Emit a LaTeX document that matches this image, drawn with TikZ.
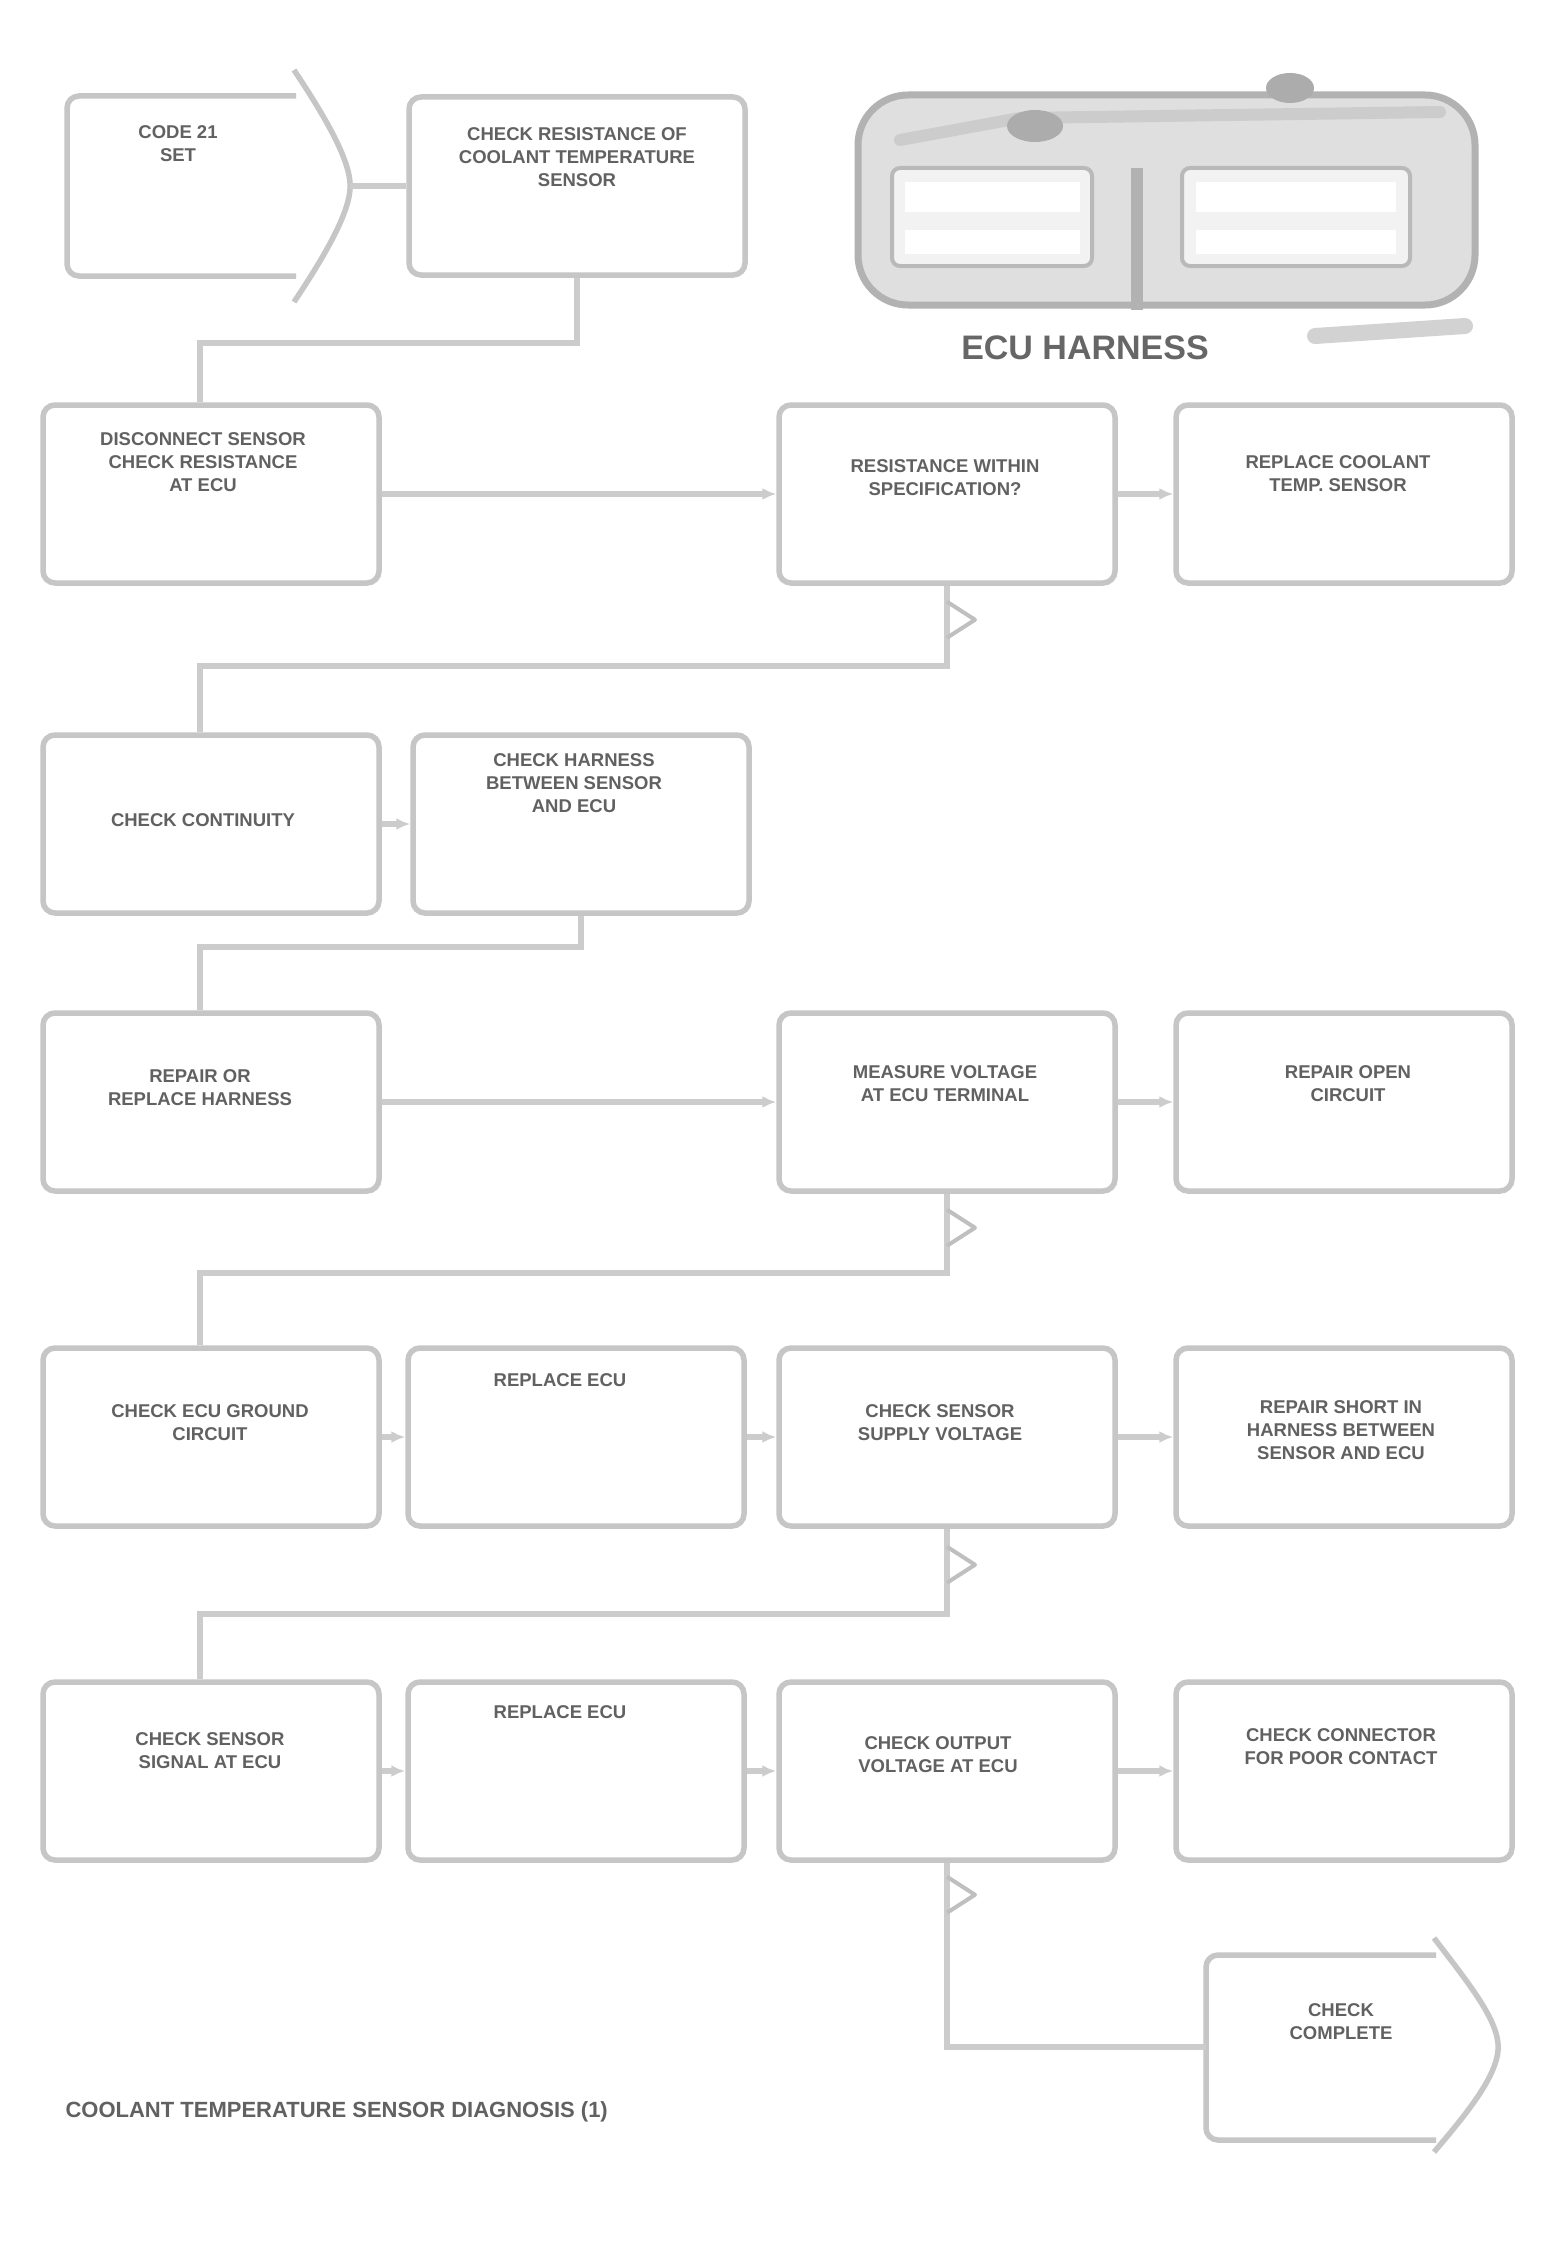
\documentclass[tikz,border=0pt]{standalone}
\usepackage{fontspec}
\setmainfont{Liberation Sans}
\usetikzlibrary{arrows.meta}
\begin{document}
\begin{tikzpicture}[x=1pt,y=-1pt,
  box/.style={draw=gray!45, line width=5.5pt, rounded corners=12pt, minimum width=336pt, minimum height=178pt, inner sep=0pt},
  ghost/.style={inner sep=0pt},
  shapeline/.style={draw=gray!45, line width=5.5pt, line join=round},
  wire/.style={draw=gray!40, line width=5.5pt},
  arr/.style={wire, -{Latex[length=14pt,width=12pt]}},
  notch/.style={draw=gray!50, line width=4pt, line join=round},
  txt/.style={font=\fontsize{18.5}{23}\selectfont\bfseries, text=black!62, align=center},
  ]
\useasboundingbox[fill=white] (0,0) rectangle (1558,2245);

% ---- start and end shapes
\node[ghost, minimum width=283pt, minimum height=184pt] (A) at (208.5,186) {};
\draw[shapeline, rounded corners=12pt] (296,96) -- (67,96) -- (67,276) -- (296,276);
\draw[shapeline] (294,70) .. controls (326,118) and (350,160) .. (A.east) .. controls (350,212) and (326,254) .. (294,302);

\node[ghost, minimum width=292pt, minimum height=186pt] (S) at (1352,2047) {};
\draw[shapeline, rounded corners=12pt] (1436,1955) -- (1206,1955) -- (1206,2140) -- (1436,2140);
\draw[shapeline] (1434,1938) .. controls (1470,1985) and (1498,2020) .. (S.east) .. controls (1498,2074) and (1470,2110) .. (1434,2152);

% ---- boxes
\node[box] (B) at (577,186) {};
\node[box] (C) at (211,494) {};
\node[box] (D) at (947,494) {};
\node[box] (E) at (1344,494) {};
\node[box] (F) at (211,824) {};
\node[box] (G) at (581,824) {};
\node[box] (H) at (211,1102) {};
\node[box] (I) at (947,1102) {};
\node[box] (J) at (1344,1102) {};
\node[box] (K) at (211,1437) {};
\node[box] (L) at (576,1437) {};
\node[box] (M) at (947,1437) {};
\node[box] (N) at (1344,1437) {};
\node[box] (O) at (211,1771) {};
\node[box] (P) at (576,1771) {};
\node[box] (Q) at (947,1771) {};
\node[box] (R) at (1344,1771) {};

% ---- texts
\node[txt] (tA) at (178,144) {CODE 21\\SET};
\node[txt] (tB) at (577,157) {CHECK RESISTANCE OF\\COOLANT TEMPERATURE\\SENSOR};
\node[txt] (tC) at (203,462) {DISCONNECT SENSOR\\CHECK RESISTANCE\\AT ECU};
\node[txt] (tD) at (945,478) {RESISTANCE WITHIN\\SPECIFICATION?};
\node[txt] (tE) at (1338,474) {REPLACE COOLANT\\TEMP. SENSOR};
\node[txt] (tF) at (203,820) {CHECK CONTINUITY};
\node[txt] (tG) at (574,783) {CHECK HARNESS\\BETWEEN SENSOR\\AND ECU};
\node[txt] (tH) at (200,1088) {REPAIR OR\\REPLACE HARNESS};
\node[txt] (tI) at (945,1084) {MEASURE VOLTAGE\\AT ECU TERMINAL};
\node[txt] (tJ) at (1348,1084) {REPAIR OPEN\\CIRCUIT};
\node[txt] (tK) at (210,1423) {CHECK ECU GROUND\\CIRCUIT};
\node[txt] (tL) at (560,1380) {REPLACE ECU};
\node[txt] (tM) at (940,1423) {CHECK SENSOR\\SUPPLY VOLTAGE};
\node[txt] (tN) at (1341,1430) {REPAIR SHORT IN\\HARNESS BETWEEN\\SENSOR AND ECU};
\node[txt] (tO) at (210,1751) {CHECK SENSOR\\SIGNAL AT ECU};
\node[txt] (tP) at (560,1712) {REPLACE ECU};
\node[txt] (tQ) at (938,1755) {CHECK OUTPUT\\VOLTAGE AT ECU};
\node[txt] (tR) at (1341,1747) {CHECK CONNECTOR\\FOR POOR CONTACT};
\node[txt] (tS) at (1341,2022) {CHECK\\COMPLETE};

% ---- connectors
\draw[wire] (A.east) -- (B.west);
\draw[wire] (B.south) -- ++(0,65) -| ([xshift=-11pt]C.north);
\draw[arr] (C.east) -- (D.west);
\draw[arr] (D.east) -- (E.west);
\draw[wire] (D.south) -- ++(0,80) -| ([xshift=-11pt]F.north);
\draw[notch] ([yshift=-16pt]D.south) -- ++(28,18) -- ++(-28,18);
\draw[arr] (F.east) -- (G.west);
\draw[wire] (G.south) -- ++(0,31) -| ([xshift=-11pt]H.north);
\draw[arr] (H.east) -- (I.west);
\draw[arr] (I.east) -- (J.west);
\draw[wire] (I.south) -- ++(0,79) -| ([xshift=-11pt]K.north);
\draw[notch] ([yshift=-16pt]I.south) -- ++(28,18) -- ++(-28,18);
\draw[arr] (K.east) -- (L.west);
\draw[arr] (L.east) -- (M.west);
\draw[arr] (M.east) -- (N.west);
\draw[wire] (M.south) -- ++(0,85) -| ([xshift=-11pt]O.north);
\draw[notch] ([yshift=-18pt]M.south) -- ++(28,18) -- ++(-28,18);
\draw[arr] (O.east) -- (P.west);
\draw[arr] (P.east) -- (Q.west);
\draw[arr] (Q.east) -- (R.west);
\draw[wire] (Q.south) |- (S.west);
\draw[notch] ([yshift=-14pt]Q.south) -- ++(28,18) -- ++(-28,18);

% ---- connector illustration (top right)
\node[ghost, minimum width=617pt, minimum height=210pt] (plug) at (1166,195) {};
\draw[draw=gray!60, fill=gray!25, line width=7pt, rounded corners=50pt] (858,95) rectangle (1475,305);
\draw[gray!40, line width=12pt, line cap=round] (900,140) -- (1020,118) -- (1440,112);
\draw[draw=gray!55, fill=gray!10, line width=4pt, rounded corners=8pt] (892,168) rectangle (1092,266);
\draw[draw=gray!55, fill=gray!10, line width=4pt, rounded corners=8pt] (1182,168) rectangle (1410,266);
\fill[white] (905,182) rectangle (1080,212);
\fill[white] (905,230) rectangle (1080,254);
\fill[white] (1196,182) rectangle (1396,212);
\fill[white] (1196,230) rectangle (1396,254);
\draw[gray!60, line width=12pt] (1137,168) -- (1137,310);
\fill[gray!65] (1290,88) ellipse (24pt and 15pt);
\fill[gray!65] (1035,126) ellipse (28pt and 16pt);
\node[font=\fontsize{34}{38}\selectfont\bfseries, text=black!60] (plugname) at (1085,348) {ECU HARNESS};
\draw[gray!35, line width=16pt, line cap=round] (1315,336) -- (1465,326);

% ---- caption
\node[font=\fontsize{22}{26}\selectfont\bfseries, text=black!62, anchor=west] (cap) at (62,2112) {COOLANT TEMPERATURE SENSOR DIAGNOSIS (1)};
\end{tikzpicture}
\end{document}
